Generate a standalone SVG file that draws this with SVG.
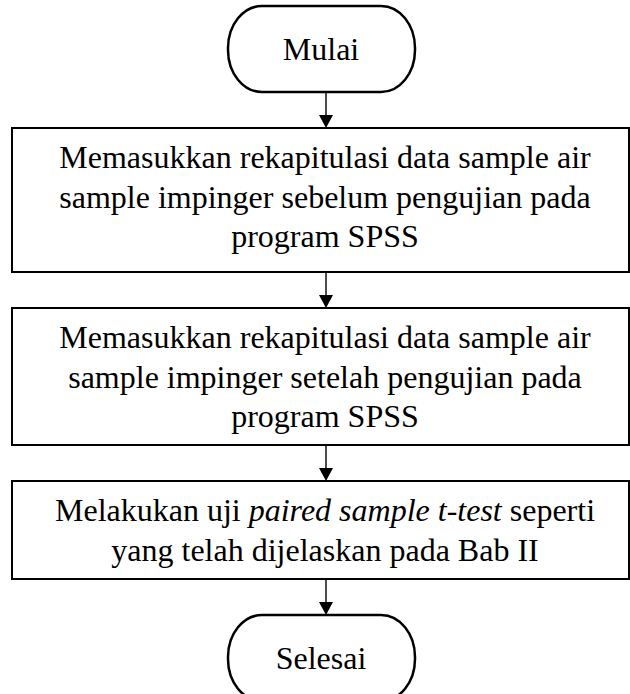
<svg xmlns="http://www.w3.org/2000/svg" width="630" height="694" viewBox="0 0 630 694">
  <style>
    .box { fill: #ffffff; stroke: #000000; stroke-width: 2; }
    .term { fill: #ffffff; stroke: #000000; stroke-width: 2.5; }
    .lbl { font-family: "Liberation Serif", "Times New Roman", serif; font-size: 32px; fill: #000000; text-anchor: middle; }
    .flow { stroke: #000000; stroke-width: 1.4; fill: none; marker-end: url(#arrow); }
  </style>
  <defs>
    <!-- solid triangular head; starts where the shaft ends -->
    <marker id="arrow" viewBox="0 0 13 14" refX="0" refY="7" markerWidth="13" markerHeight="14" orient="auto" markerUnits="userSpaceOnUse">
      <path d="M0,0 L13,7 L0,14 Z" fill="#000000"/>
    </marker>
  </defs>

  <!-- connectors -->
  <g id="connectors">
    <line class="flow" x1="326" y1="93" x2="326" y2="115"/>
    <line class="flow" x1="326" y1="272" x2="326" y2="295"/>
    <line class="flow" x1="326" y1="445" x2="326" y2="468"/>
    <line class="flow" x1="326" y1="579" x2="326" y2="602"/>
  </g>

  <!-- start terminal -->
  <g id="start">
    <rect class="term" x="228" y="6" width="187" height="86" rx="34" ry="42"/>
    <text class="lbl" x="321" y="60">Mulai</text>
  </g>

  <!-- input data before testing -->
  <g id="input-before">
    <rect class="box" x="12" y="128" width="617" height="144"/>
    <text class="lbl" x="325" y="168">Memasukkan rekapitulasi data sample air</text>
    <text class="lbl" x="325" y="208">sample impinger sebelum pengujian pada</text>
    <text class="lbl" x="325" y="247">program SPSS</text>
  </g>

  <!-- input data after testing -->
  <g id="input-after">
    <rect class="box" x="12" y="308" width="617" height="137"/>
    <text class="lbl" x="325" y="348">Memasukkan rekapitulasi data sample air</text>
    <text class="lbl" x="325" y="388">sample impinger setelah pengujian pada</text>
    <text class="lbl" x="325" y="427">program SPSS</text>
  </g>

  <!-- paired sample t-test -->
  <g id="ttest">
    <rect class="box" x="12" y="481" width="617" height="98"/>
    <text class="lbl" x="325" y="521">Melakukan uji <tspan font-style="italic">paired sample t-test</tspan> seperti</text>
    <text class="lbl" x="325" y="561">yang telah dijelaskan pada Bab II</text>
  </g>

  <!-- end terminal -->
  <g id="end">
    <rect class="term" x="228" y="615" width="187" height="86" rx="34" ry="42"/>
    <text class="lbl" x="321" y="669">Selesai</text>
  </g>
</svg>
